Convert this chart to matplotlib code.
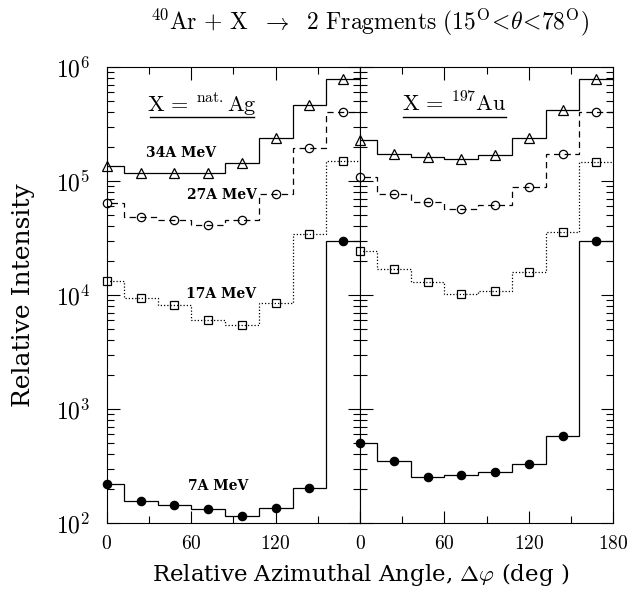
import numpy as np
import matplotlib
matplotlib.use("Agg")
import matplotlib.pyplot as plt
from matplotlib.ticker import FixedLocator, MultipleLocator, FuncFormatter, NullFormatter

plt.rcParams['font.family'] = 'DejaVu Serif'
plt.rcParams['mathtext.fontset'] = 'cm'

# --- Azimuthal correlation data (bin centres in deg, 24 deg bins) ---
angles = [0, 24, 48, 72, 96, 120, 144, 168]
bin_edges = [-12, 12, 36, 60, 84, 108, 132, 156, 180]
energy_labels = ['34A MeV', '27A MeV', '17A MeV', '7A MeV']

# X = nat. Ag
ag_34 = [1.36e5, 1.17e5, 1.17e5, 1.17e5, 1.45e5, 2.4e5, 4.65e5, 7.9e5]
ag_27 = [6.4e4, 4.85e4, 4.55e4, 4.1e4, 4.55e4, 7.7e4, 1.94e5, 4.05e5]
ag_17 = [1.33e4, 9.5e3, 8.2e3, 6.0e3, 5.4e3, 8.5e3, 3.4e4, 1.5e5]
ag_7 = [220, 156, 143, 133, 115, 135, 202, 2.98e4]

# X = 197 Au
au_34 = [2.29e5, 1.71e5, 1.61e5, 1.56e5, 1.69e5, 2.37e5, 4.2e5, 7.85e5]
au_27 = [1.08e5, 7.7e4, 6.6e4, 5.7e4, 6.1e4, 8.9e4, 1.73e5, 4.05e5]
au_17 = [2.43e4, 1.68e4, 1.31e4, 1.03e4, 1.09e4, 1.58e4, 3.6e4, 1.48e5]
au_7 = [500, 350, 252, 266, 279, 327, 581, 2.98e4]

x_ticks = [0, 60, 120, 180]
x_ticklabels_left = ['0', '60', '120', '']
x_ticklabels_right = ['0', '60', '120', '180']
y_ticks = [1e2, 1e3, 1e4, 1e5, 1e6]

# marker, marker size, face colour, line style for each beam energy
styles = [
    ('^', 6.5, 'none', '-'),
    ('o', 6.0, 'none', (0, (5, 3.5))),
    ('s', 5.5, 'none', (0, (1, 1.6))),
    ('o', 6.0, 'k', '-'),
]


def draw_panel(ax, series, xlabels):
    for vals, (mk, ms, fc, ls) in zip(series, styles):
        ax.stairs(vals, bin_edges, baseline=None, color='k', lw=0.9, ls=ls)
        ax.plot(angles, vals, ls='none', marker=mk, ms=ms, mfc=fc, mec='k',
                mew=0.9, clip_on=False, zorder=3)
    ax.set_yscale('log')
    ax.set_ylim(1e2, 1e6)
    ax.set_xlim(0, 180)
    ax.xaxis.set_major_locator(FixedLocator(x_ticks))
    ax.xaxis.set_minor_locator(MultipleLocator(30))
    ax.set_xticklabels([f'${s}$' if s else '' for s in xlabels])
    ax.yaxis.set_major_locator(FixedLocator(y_ticks))
    ax.yaxis.set_major_formatter(
        FuncFormatter(lambda v, p: r'$10^{%d}$' % round(np.log10(v))))
    ax.yaxis.set_minor_formatter(NullFormatter())
    ax.tick_params(which='both', direction='in', top=True, right=True, width=0.8)
    ax.tick_params(which='major', length=9)
    ax.tick_params(which='minor', length=5)
    ax.tick_params(axis='x', labelsize=14, pad=9)
    ax.tick_params(axis='y', labelsize=17, pad=12)
    for sp in ax.spines.values():
        sp.set_linewidth(0.8)


fig = plt.figure(figsize=(6.29, 5.92), dpi=100)
ax1 = fig.add_axes([0.170, 0.1166, 0.4024, 0.7703])
ax2 = fig.add_axes([0.5724, 0.1166, 0.4024, 0.7703], sharey=ax1)

draw_panel(ax1, [ag_34, ag_27, ag_17, ag_7], x_ticklabels_left)
draw_panel(ax2, [au_34, au_27, au_17, au_7], x_ticklabels_right)
ax2.tick_params(axis='y', labelleft=False)

# energy labels on the Ag panel
label_pos = [(0.291, 0.811), (0.454, 0.719), (0.450, 0.502), (0.44, 0.08)]
for txt, (xf, yf) in zip(energy_labels, label_pos):
    ax1.text(xf, yf, txt, transform=ax1.transAxes, ha='center', va='center',
             fontsize=10, fontweight='bold')

# target labels with underline
ax1.text(0.376, 0.902, r'$\mathrm{X}\,=\,^{\mathrm{nat.}}\mathrm{Ag}$',
         transform=ax1.transAxes, ha='center', va='baseline', fontsize=16)
ax1.plot([0.171, 0.582], [0.890, 0.890], transform=ax1.transAxes, color='k', lw=1)
ax2.text(0.374, 0.902, r'$\mathrm{X}\,=\,^{197}\mathrm{Au}$',
         transform=ax2.transAxes, ha='center', va='baseline', fontsize=16)
ax2.plot([0.169, 0.575], [0.890, 0.890], transform=ax2.transAxes, color='k', lw=1)

ax1.set_ylabel('Relative Intensity', fontsize=18, labelpad=15)
fig.text(0.574, 0.029, r'Relative Azimuthal Angle, $\Delta\varphi$ (deg )',
         ha='center', va='center', fontsize=16.5)
fig.text(0.587, 0.963,
         r'$^{40}\mathrm{Ar}\,+\,\mathrm{X}\ \ \rightarrow\ \ 2\ \mathrm{Fragments}\ '
         r'(15^{\mathrm{O}}\!<\!\theta\!<\!78^{\mathrm{O}})$',
         ha='center', va='center', fontsize=17)

fig.savefig('out.png', dpi=100)
